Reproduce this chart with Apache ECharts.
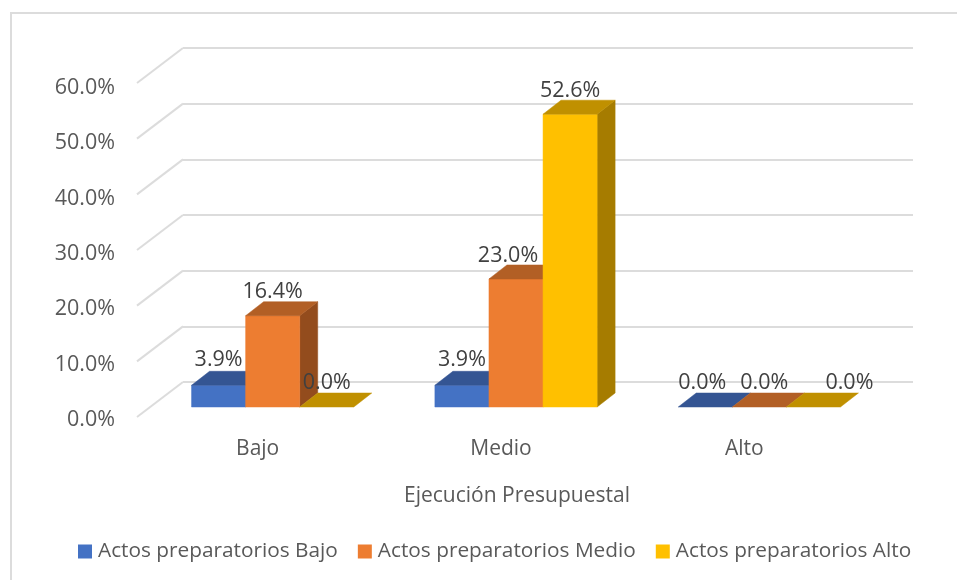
<!DOCTYPE html>
<html>
<head>
<meta charset="utf-8">
<style>html,body{margin:0;padding:0;background:#fff}#c{width:957px;height:580px}</style>
<script src="https://cdn.jsdelivr.net/npm/echarts@6/dist/echarts.min.js"></script>
</head>
<body>
<div id="c"></div>
<script>
const categories = ['Bajo', 'Medio', 'Alto'];
const seriesNames = ['Actos preparatorios Bajo', 'Actos preparatorios Medio', 'Actos preparatorios Alto'];
const bajo = [3.9, 3.9, 0.0];
const medio = [16.4, 23.0, 0.0];
const alto = [0.0, 52.6, 0.0];
const yTicks = [0, 10, 20, 30, 40, 50, 60];

// Manual data-label nudges seen in the reference, [series][category]
const labelNudgeX = [[0, 0, -3], [0, -8, 5], [0, 0, 36]];
const labelNudgeY = [[2, 2, 3], [3, 4, 3], [3, 4, 3]];
const faceColors = [
  { front: '#4472C4', top: '#345593', side: '#2E4F8A' },
  { front: '#ED7D31', top: '#B25F25', side: '#934C1D' },
  { front: '#FFC000', top: '#C09000', side: '#A67C00' }
];
const FONT = '"Open Sans", sans-serif';
const TEXT = '#595959', LABEL = '#404040', GRID = '#DCDCDC';
// Oblique projection: wall -> front of the floor, and bar front/back planes
const WALL_DX = -46, WALL_DY = 35;
const BAR_DX = -32, BAR_DY = 25, BAR_DEPTH_X = 18, BAR_DEPTH_Y = -14;

function poly(points, fill) {
  return { type: 'polygon', shape: { points }, style: { fill, stroke: fill, lineWidth: 0.5 } };
}
function barRenderer(s) {
  return function (params, api) {
    const cat = api.value(0), val = api.value(1);
    const band = api.size([1, 0])[0], w = band / 4.5;
    const base = api.coord([cat, 0]), top = api.coord([cat, val]);
    const xl = base[0] - 1.5 * w + s * w + BAR_DX, xr = xl + w;
    const yb = base[1] + BAR_DY, yt = top[1] + BAR_DY;
    const c = faceColors[s];
    const dx = BAR_DEPTH_X, dy = BAR_DEPTH_Y;
    const children = [];
    if (val > 0) {
      children.push(poly([[xr, yb], [xr + dx, yb + dy], [xr + dx, yt + dy], [xr, yt]], c.side));
      children.push(poly([[xl, yb], [xr, yb], [xr, yt], [xl, yt]], c.front));
    }
    children.push(poly([[xl, yt], [xr, yt], [xr + dx, yt + dy], [xl + dx, yt + dy]], c.top));
    children.push({
      type: 'text', z2: 100,
      style: {
        x: (xl + xr) / 2 + labelNudgeX[s][cat], y: yt + dy - 13 + labelNudgeY[s][cat],
        text: val.toFixed(1) + '%', align: 'center', verticalAlign: 'middle',
        fill: LABEL, font: '21.5px ' + FONT
      }
    });
    return { type: 'group', children };
  };
}
function wallRenderer(params, api) {
  const v = api.value(0);
  const p = api.coord([0, v]);
  const x = p[0] - api.size([1, 0])[0] / 2;
  return {
    type: 'line',
    shape: { x1: x, y1: p[1], x2: x + WALL_DX, y2: p[1] + WALL_DY },
    style: { stroke: GRID, lineWidth: 2 }
  };
}

const series = [
  {
    type: 'custom', name: 'wall', xAxisIndex: 0, yAxisIndex: 0, silent: true,
    encode: { y: 0 }, data: yTicks.map(v => [v]), renderItem: wallRenderer, z: 1
  }
].concat([bajo, medio, alto].map((vals, s) => ({
  type: 'custom', name: seriesNames[s], xAxisIndex: 0, yAxisIndex: 0, z: 3 + s,
  itemStyle: { color: faceColors[s].front },
  encode: { x: 0, y: 1 },
  data: vals.map((v, i) => [i, v]),
  renderItem: barRenderer(s)
})));

const chart = echarts.init(document.getElementById('c'), null, { renderer: 'canvas' });
chart.setOption({
  animation: false,
  backgroundColor: '#fff',
  graphic: [{
    type: 'rect', z: 0, silent: true,
    shape: { x: 11, y: 13, width: 1000, height: 1000 },
    style: { fill: 'none', stroke: GRID, lineWidth: 2 }
  }],
  grid: [
    { left: 183, right: 44, top: 48, bottom: 198 },
    { left: 136, right: 91, top: 88, bottom: 160 }
  ],
  xAxis: [
    { type: 'category', gridIndex: 0, data: categories, axisLine: { show: false }, axisTick: { show: false }, axisLabel: { show: false } },
    {
      type: 'category', gridIndex: 1, data: categories,
      axisLine: { show: false }, axisTick: { show: false },
      axisLabel: { color: TEXT, fontFamily: FONT, fontSize: 21, margin: 19 },
      name: 'Ejecución Presupuestal', nameLocation: 'middle', nameGap: 66,
      nameTextStyle: { color: TEXT, fontFamily: FONT, fontSize: 21, padding: [0, 0, 0, 32] }
    }
  ],
  yAxis: [
    {
      type: 'value', gridIndex: 0, min: 0, max: 60, interval: 10,
      axisLine: { show: false }, axisTick: { show: false }, axisLabel: { show: false },
      splitLine: { show: true, lineStyle: { color: GRID, width: 2 } }
    },
    {
      type: 'value', gridIndex: 1, min: 0, max: 60, interval: 10,
      axisLine: { show: false }, axisTick: { show: false }, splitLine: { show: false },
      axisLabel: { color: TEXT, fontFamily: FONT, fontSize: 21.5, margin: 21, formatter: v => v.toFixed(1) + '%' }
    }
  ],
  legend: {
    left: 78, top: 541, padding: 0, itemWidth: 14, itemHeight: 14, itemGap: 20,
    icon: 'rect', data: seriesNames,
    textStyle: { color: TEXT, fontFamily: FONT, fontSize: 20.8, padding: [0, 0, 0, 1] }
  },
  series
});
</script>
</body>
</html>
